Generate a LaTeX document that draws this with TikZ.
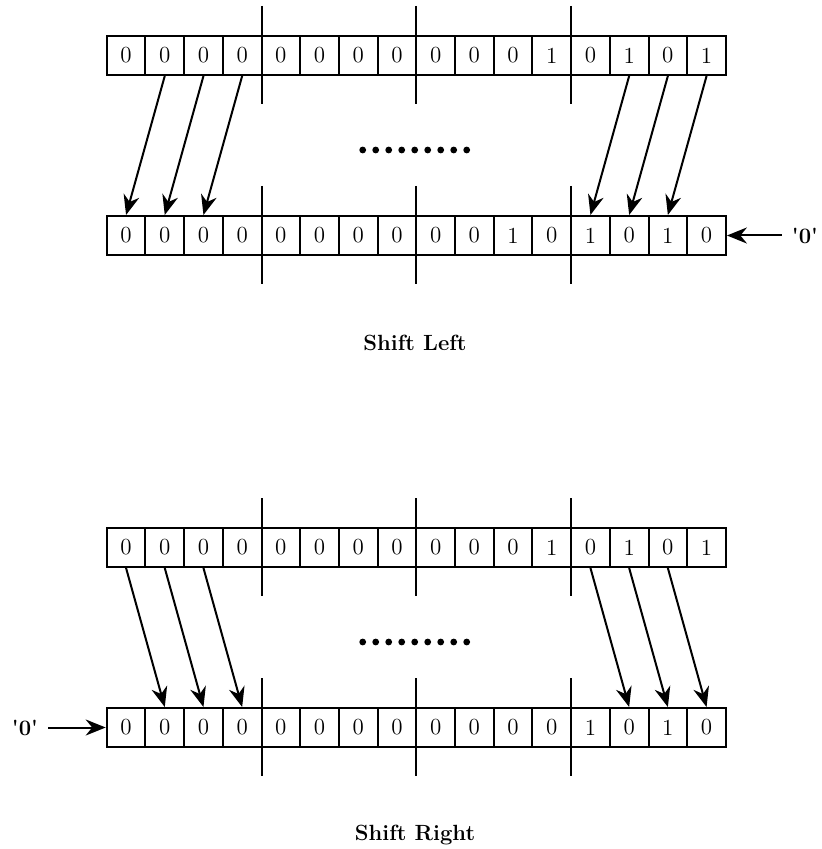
\documentclass[tikz,border=0pt]{standalone}
\usetikzlibrary{arrows.meta}
\tikzset{
  cell/.style={draw, line width=1pt, minimum width=19.35pt, minimum height=19.5pt, inner sep=0pt, font=\fontsize{11.5}{14}\selectfont},
  shiftarrow/.style={line width=1pt, -{Stealth[length=10pt,width=8pt]}},
  divider/.style={line width=1pt},
  caption/.style={font=\fontsize{11}{13}\selectfont\bfseries}
}
\begin{document}
\begin{tikzpicture}[x=0.5pt,y=-0.5pt]
  \useasboundingbox (0,0) rectangle (822,849);
  % shift left: registers
  \foreach \d [count=\i from 0] in {0,0,0,0,0,0,0,0,0,0,0,1,0,1,0,1}
    \node[cell] (la\i) at (126.05+38.7*\i, 55.5) {\d};
  \foreach \d [count=\i from 0] in {0,0,0,0,0,0,0,0,0,0,1,0,1,0,1,0}
    \node[cell] (lb\i) at (126.05+38.7*\i, 235.5) {\d};
  \foreach \k in {4,8,12} {
    \draw[divider] (106.7+38.7*\k,6) -- ++(0,98);
    \draw[divider] (106.7+38.7*\k,186) -- ++(0,98);
  }
  \foreach \i/\j in {1/0,2/1,3/2,13/12,14/13,15/14}
    \draw[shiftarrow] (la\i.south) -- (lb\j.north);
  \foreach \k in {0,...,8}
    \fill (362.7+13*\k,150) circle (1.7pt);
  \node[caption, inner sep=5pt] (lzero) at (805,235.5) {\textquotesingle0\textquotesingle};
  \draw[shiftarrow] (lzero.west) -- (lb15.east);
  \node[caption] (lcap) at (415,343) {Shift Left};

  % shift right: registers
  \foreach \d [count=\i from 0] in {0,0,0,0,0,0,0,0,0,0,0,1,0,1,0,1}
    \node[cell] (ra\i) at (126.05+38.7*\i, 547.5) {\d};
  \foreach \d [count=\i from 0] in {0,0,0,0,0,0,0,0,0,0,0,0,1,0,1,0}
    \node[cell] (rb\i) at (126.05+38.7*\i, 727.5) {\d};
  \foreach \k in {4,8,12} {
    \draw[divider] (106.7+38.7*\k,498) -- ++(0,98);
    \draw[divider] (106.7+38.7*\k,678) -- ++(0,98);
  }
  \foreach \i/\j in {0/1,1/2,2/3,12/13,13/14,14/15}
    \draw[shiftarrow] (ra\i.south) -- (rb\j.north);
  \foreach \k in {0,...,8}
    \fill (362.7+13*\k,642) circle (1.7pt);
  \node[caption, inner sep=5pt] (rzero) at (25,727.5) {\textquotesingle0\textquotesingle};
  \draw[shiftarrow] (rzero.east) -- (rb0.west);
  \node[caption] (rcap) at (415,835) {Shift Right};
\end{tikzpicture}
\end{document}
